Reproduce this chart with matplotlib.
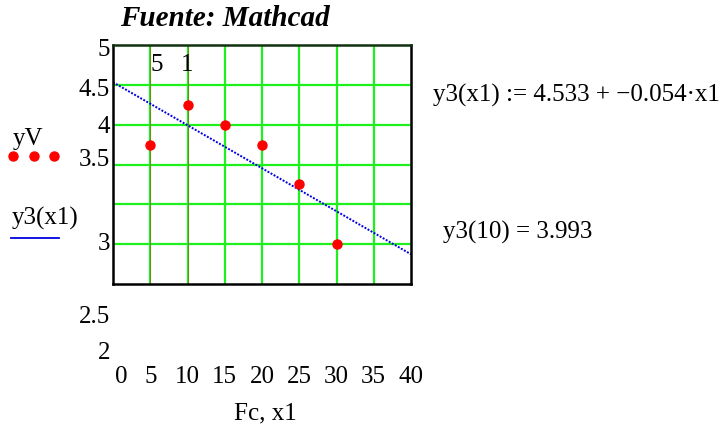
#!/usr/bin/env python3
# Mathcad-style plot: measured yV points and the fitted line y3(x1).

import matplotlib.pyplot as plt
from matplotlib.transforms import ScaledTranslation

x1 = [5, 10, 15, 20, 25, 30]
yV = [3.75, 4.25, 4.0, 3.75, 3.25, 2.5]

# regression coefficients as typed in the worksheet
b0 = 4.533
b1 = -0.054
x_eval = 10

x_ticks = [0, 5, 10, 15, 20, 25, 30, 35, 40]
y_grid = [2.5, 3.0, 3.5, 4.0, 4.5]
marker_x = [5, 10]
marker_labels = ["5", "1"]
marker_shift = [0, -7]
y_tick_labels = ["5", "4.5", "4", "3.5", "3", "2.5", "2"]
# label rows as Mathcad placed them (pixels from top)
y_tick_rows = [50, 90, 127, 160, 244, 317, 353]

W, H = 723, 426
FS = 18
plt.rcParams["font.family"] = ["Liberation Serif", "DejaVu Serif"]

fig = plt.figure(figsize=(W / 100, H / 100), dpi=100)
ax = fig.add_axes([113 / W, (H - 284) / H, 298 / W, 239 / H])
ax.set_xlim(0, 40)
ax.set_ylim(2, 5)

green = "#1ef01e"
for xv in x_ticks[1:-1]:
    ax.axvline(xv, color=green, lw=1.6, zorder=1)
for xv in marker_x:
    ax.axvline(xv, color="#a0522d", lw=0.6, alpha=0.8, zorder=1.5)
for yv in y_grid:
    ax.axhline(yv, color=green, lw=1.6, zorder=1)

def y3(x):
    return b0 + b1 * x

ax.plot([0, 40], [y3(0), y3(40)], color="#0000e0", lw=1.4,
        linestyle=(0, (1, 0.8)), zorder=2)
ax.plot(x1, yV, "o", color="#ff0000", ms=6.5, zorder=3)

for s in ["left", "bottom", "right"]:
    ax.spines[s].set_linewidth(1.8)
    ax.spines[s].set_color("black")
ax.spines["top"].set_linewidth(1.8)
ax.spines["top"].set_color("#103010")

ax.set_xticks(x_ticks)
ax.set_xticklabels([str(v) for v in x_ticks], fontsize=FS)
ax.tick_params(axis="x", length=0, pad=59)
ax.set_yticks([])
# Mathcad puts the first x label a little inside the corner
first = ax.get_xticklabels()[0]
first.set_transform(first.get_transform()
                    + ScaledTranslation(8 / 100, 0, fig.dpi_scale_trans))

for lab, xv, dx in zip(marker_labels, marker_x, marker_shift):
    ax.annotate(lab, (xv, 5), xytext=(dx, -9), textcoords="offset pixels",
                ha="left", va="top", fontsize=FS)

for lab, row in zip(y_tick_labels, y_tick_rows):
    fig.text(110 / W, 1 - row / H, lab, ha="right", va="center", fontsize=FS)

fig.text(225 / W, 1 - 18 / H, "Fuente: Mathcad", ha="center", va="center",
         fontsize=21, fontweight="bold", fontstyle="italic")
fig.text(265 / W, 1 - 413 / H, "Fc, x1", ha="center", va="center", fontsize=FS)

# legend column on the left
fig.text(13 / W, 1 - 139 / H, "yV", ha="left", va="center", fontsize=FS)
for px in [13, 34, 54]:
    fig.lines.append(plt.Line2D([px / W], [1 - 156 / H], marker="o", ms=6.5,
                                color="#ff0000", transform=fig.transFigure))
fig.text(12 / W, 1 - 218 / H, "y3(x1)", ha="left", va="center", fontsize=FS)
fig.lines.append(plt.Line2D([11 / W, 59 / W], [1 - 238 / H, 1 - 238 / H],
                            color="#0000e0", lw=1.3, transform=fig.transFigure))

# worksheet expressions on the right
fig.text(433 / W, 1 - 95 / H,
         f"y3(x1) := {b0:.3f} + \u2212{abs(b1):.3f}\u00b7x1",
         ha="left", va="center", fontsize=FS)
fig.text(443 / W, 1 - 232 / H, f"y3({x_eval}) = {y3(x_eval):.3f}",
         ha="left", va="center", fontsize=FS)

fig.savefig("out.png", dpi=100)
